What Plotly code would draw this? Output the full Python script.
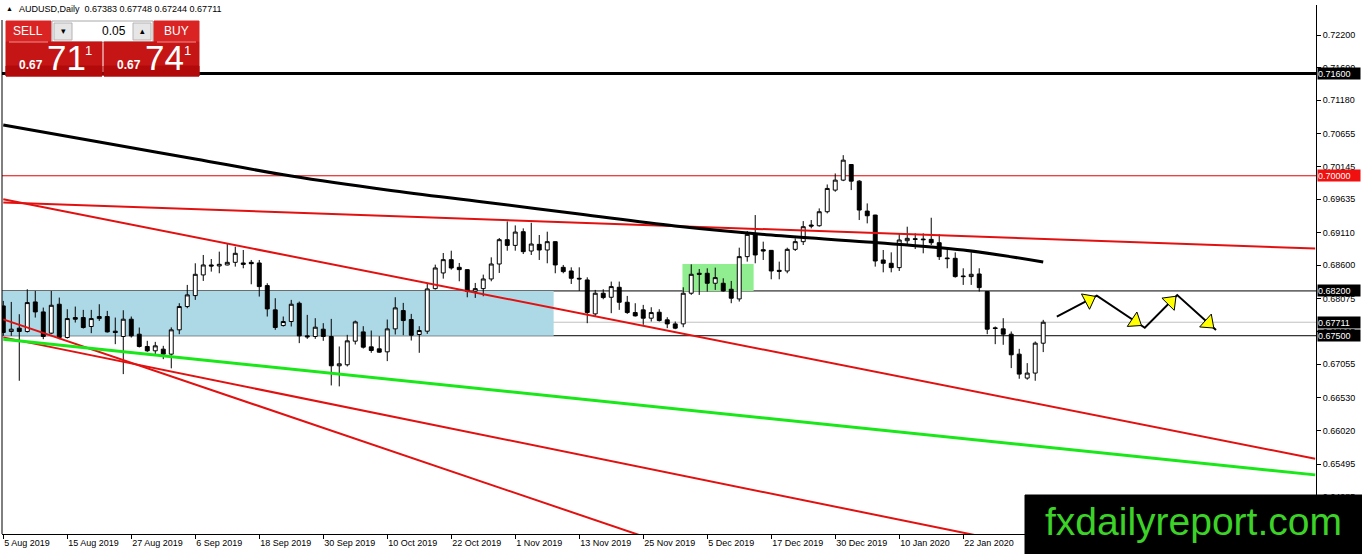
import pandas as pd
import plotly.graph_objects as go

# trading days shown on the chart (broker calendar, no Christmas / New Year bar)
dates = pd.bdate_range('2019-08-05', '2020-02-05', freq='C',
                       holidays=['2019-12-25', '2020-01-01'])

open_ = [0.67966, 0.67566, 0.67618, 0.67566, 0.68028, 0.67872, 0.67540, 0.67992, 0.67472, 0.67784,
         0.67784, 0.67644, 0.67768, 0.67800, 0.67571, 0.67488, 0.67758, 0.67524, 0.67332, 0.67264,
         0.67290, 0.67212, 0.67592, 0.67956, 0.68127, 0.68450, 0.68606, 0.68590, 0.68606, 0.68647,
         0.68637, 0.68647, 0.68637, 0.68283, 0.67904, 0.67659, 0.67722, 0.68008, 0.67498, 0.67488,
         0.67602, 0.67488, 0.67030, 0.67046, 0.67415, 0.67560, 0.67326, 0.67295, 0.67248, 0.67607,
         0.67893, 0.67753, 0.67519, 0.67571, 0.68236, 0.68481, 0.68689, 0.68569, 0.68533, 0.68195,
         0.68236, 0.68387, 0.68621, 0.69001, 0.68912, 0.69126, 0.68824, 0.68928, 0.68840, 0.68970,
         0.68569, 0.68512, 0.68398, 0.68372, 0.67841, 0.68164, 0.68101, 0.68257, 0.68023, 0.67862,
         0.67904, 0.67774, 0.67867, 0.67748, 0.67685, 0.67685, 0.68164, 0.68476, 0.68476, 0.68320,
         0.68320, 0.68226, 0.68075, 0.68736, 0.69074, 0.68845, 0.68834, 0.68522, 0.68512, 0.68850,
         0.68970, 0.69230, 0.69219, 0.69438, 0.69776, 0.69932, 0.70176, 0.69916, 0.69448, 0.69386,
         0.68684, 0.68632, 0.68564, 0.68985, 0.69016, 0.69011, 0.69006, 0.68954, 0.68715, 0.68710,
         0.68434, 0.68424, 0.68465, 0.68190, 0.67623, 0.67607, 0.67524, 0.67212, 0.66838, 0.66916,
         0.67383]
high = [0.68044, 0.68028, 0.67836, 0.68226, 0.68200, 0.67940, 0.68200, 0.68096, 0.67914, 0.67956,
        0.67904, 0.67904, 0.67992, 0.67888, 0.67784, 0.67898, 0.67800, 0.67628, 0.67420, 0.67404,
        0.67342, 0.67630, 0.68008, 0.68294, 0.68632, 0.68762, 0.68699, 0.68814, 0.68944, 0.68892,
        0.68840, 0.68684, 0.68684, 0.68320, 0.68086, 0.67800, 0.68060, 0.68034, 0.67826, 0.67774,
        0.67696, 0.67763, 0.67332, 0.67514, 0.67737, 0.67649, 0.67581, 0.67493, 0.67753, 0.68101,
        0.68013, 0.67841, 0.67649, 0.68325, 0.68611, 0.68793, 0.68829, 0.68637, 0.68540, 0.68325,
        0.68455, 0.68725, 0.69027, 0.69287, 0.69224, 0.69178, 0.69266, 0.69074, 0.69126, 0.68975,
        0.68606, 0.68569, 0.68569, 0.68413, 0.68216, 0.68226, 0.68346, 0.68346, 0.68122, 0.68008,
        0.67982, 0.67945, 0.67914, 0.67789, 0.67722, 0.68257, 0.68616, 0.68543, 0.68554, 0.68564,
        0.68398, 0.68356, 0.68876, 0.69136, 0.69386, 0.68970, 0.68840, 0.68658, 0.68876, 0.69022,
        0.69292, 0.69308, 0.69490, 0.69864, 0.70036, 0.70322, 0.70180, 0.69932, 0.69568, 0.69390,
        0.68840, 0.68803, 0.69100, 0.69204, 0.69100, 0.69100, 0.69344, 0.69084, 0.68866, 0.68803,
        0.68554, 0.68803, 0.68554, 0.68195, 0.67644, 0.67774, 0.67566, 0.67295, 0.67072, 0.67410,
        0.67748]
low = [0.67498, 0.67498, 0.66796, 0.67550, 0.67784, 0.67446, 0.67524, 0.67446, 0.67456, 0.67706,
       0.67612, 0.67540, 0.67732, 0.67550, 0.67368, 0.66900, 0.67472, 0.67316, 0.67248, 0.67186,
       0.67134, 0.66990, 0.67524, 0.67930, 0.68060, 0.68356, 0.68502, 0.68476, 0.68600, 0.68580,
       0.68554, 0.68304, 0.68112, 0.67800, 0.67592, 0.67644, 0.67644, 0.67384, 0.67451, 0.67451,
       0.67420, 0.66723, 0.66708, 0.67020, 0.67363, 0.67300, 0.67233, 0.67233, 0.67103, 0.67519,
       0.67508, 0.67425, 0.67233, 0.67529, 0.68221, 0.68392, 0.68533, 0.68351, 0.68101, 0.68091,
       0.68117, 0.68351, 0.68481, 0.68829, 0.68829, 0.68777, 0.68762, 0.68684, 0.68632, 0.68476,
       0.68476, 0.68309, 0.68200, 0.67696, 0.67800, 0.68070, 0.67852, 0.67904, 0.67841, 0.67800,
       0.67670, 0.67722, 0.67722, 0.67618, 0.67602, 0.67633, 0.68138, 0.68138, 0.68190, 0.68216,
       0.68190, 0.68008, 0.68034, 0.68658, 0.68632, 0.68684, 0.68382, 0.68382, 0.68476, 0.68824,
       0.68918, 0.69178, 0.69204, 0.69412, 0.69750, 0.69916, 0.69776, 0.69308, 0.69256, 0.68580,
       0.68491, 0.68491, 0.68512, 0.68918, 0.68855, 0.68788, 0.68918, 0.68684, 0.68554, 0.68408,
       0.68294, 0.68294, 0.68190, 0.67524, 0.67368, 0.67358, 0.66994, 0.66827, 0.66812, 0.66796,
       0.67244]
close = [0.67550, 0.67602, 0.67566, 0.68018, 0.67872, 0.67488, 0.67976, 0.67472, 0.67768, 0.67758,
         0.67628, 0.67768, 0.67800, 0.67560, 0.67550, 0.67758, 0.67498, 0.67332, 0.67264, 0.67342,
         0.67212, 0.67592, 0.67956, 0.68138, 0.68460, 0.68606, 0.68590, 0.68616, 0.68647, 0.68788,
         0.68616, 0.68626, 0.68268, 0.67919, 0.67628, 0.67722, 0.67992, 0.67498, 0.67483, 0.67633,
         0.67488, 0.67030, 0.67061, 0.67420, 0.67716, 0.67321, 0.67269, 0.67243, 0.67607, 0.67935,
         0.67737, 0.67508, 0.67581, 0.68231, 0.68559, 0.68689, 0.68559, 0.68533, 0.68195, 0.68236,
         0.68387, 0.68621, 0.69001, 0.68912, 0.69120, 0.68814, 0.68933, 0.68840, 0.68970, 0.68606,
         0.68502, 0.68398, 0.68388, 0.67862, 0.68164, 0.68096, 0.68268, 0.68023, 0.67862, 0.67810,
         0.67774, 0.67862, 0.67737, 0.67685, 0.67618, 0.68164, 0.68460, 0.68460, 0.68320, 0.68408,
         0.68200, 0.68086, 0.68736, 0.69084, 0.68762, 0.68824, 0.68512, 0.68507, 0.68850, 0.68970,
         0.69204, 0.69214, 0.69438, 0.69802, 0.69932, 0.70244, 0.69916, 0.69464, 0.69375, 0.68668,
         0.68632, 0.68564, 0.68996, 0.69022, 0.69006, 0.69001, 0.68954, 0.68736, 0.68705, 0.68424,
         0.68424, 0.68460, 0.68252, 0.67602, 0.67613, 0.67524, 0.67202, 0.66900, 0.66916, 0.67384,
         0.67711]

# moving average read at a few bars
ma_bars = [0, 12, 24, 36, 48, 60, 72, 84, 96, 108, 120, 130]
ma_vals = [0.70793, 0.70528, 0.70262, 0.69996, 0.69778, 0.69590, 0.69402, 0.69215, 0.69074, 0.68965,
           0.68840, 0.68652]

# drawn trend lines: (bar, price) anchors
red_flat_x, red_flat_y = [0, 164], [0.69582, 0.68863]
red_steep_x, red_steep_y = [0, 164], [0.69632, 0.65578]
red_low1_x, red_low1_y = [0, 90], [0.67755, 0.63940]
red_low2_x, red_low2_y = [0, 130], [0.67474, 0.64167]
green_x, green_y = [0, 164], [0.67444, 0.65325]

# horizontal levels
level_716 = 0.71600
level_700 = 0.70000
level_682 = 0.68200
level_675 = 0.67500
bid = 0.67711

# zones (bar range, price range)
blue_zone = ([-1, 68.8], [0.67500, 0.68200])
green_zone = ([84.9, 93.8], [0.68200, 0.68621])

# projected zig-zag path
path_x = [131.7, 136.7, 142.7, 146.75, 151.6]
path_y = [0.67797, 0.68126, 0.67625, 0.68136, 0.67589]

ytick_vals = [0.72200, 0.71690, 0.71180, 0.70655, 0.70145, 0.69635, 0.69110, 0.68600, 0.68075,
              0.67565, 0.67055, 0.66530, 0.66020, 0.65495, 0.64985]

bars = list(range(len(dates)))
xtick_vals = bars[::8]
xtick_text = [f'{d.day} {d.strftime("%b %Y")}' for d in dates[::8]]

FONT = 'Liberation Sans'
W, H = 1362, 554
L, R, T, B = 2, 46, 5, 20


def PX(x):
    return (x - L) / (W - L - R)


def PY(y):
    return (H - B - y) / (H - T - B)


fig = go.Figure()

fig.add_trace(go.Candlestick(
    x=bars, open=open_, high=high, low=low, close=close,
    increasing=dict(line=dict(color='black', width=1), fillcolor='white'),
    decreasing=dict(line=dict(color='black', width=1), fillcolor='black'),
    whiskerwidth=0, hoverinfo='skip'))

for lx, ly, col, wid in [(red_flat_x, red_flat_y, '#E31010', 2),
                         (red_steep_x, red_steep_y, '#E31010', 2),
                         (red_low1_x, red_low1_y, '#E31010', 2),
                         (red_low2_x, red_low2_y, '#E31010', 2),
                         (green_x, green_y, '#18E818', 3)]:
    fig.add_trace(go.Scatter(x=lx, y=ly, mode='lines', line=dict(color=col, width=wid),
                             hoverinfo='skip'))

fig.add_trace(go.Scatter(x=ma_bars, y=ma_vals, mode='lines', line=dict(color='black', width=3),
                         line_shape='spline', hoverinfo='skip'))

fig.add_trace(go.Scatter(x=path_x, y=path_y, mode='lines', line=dict(color='black', width=2),
                         hoverinfo='skip'))
for i in range(len(path_x) - 1):
    t = 0.8
    cx = path_x[i] + t * (path_x[i + 1] - path_x[i])
    cy = path_y[i] + t * (path_y[i + 1] - path_y[i])
    fig.add_trace(go.Scatter(
        x=[path_x[i], cx], y=[path_y[i], cy], mode='markers',
        marker=dict(symbol='triangle-up', size=15, color='#FFFF00', opacity=[0, 1],
                    angleref='previous', line=dict(color='black', width=1)),
        hoverinfo='skip'))

shapes = []
for zone, col in [(blue_zone, '#ADD8E6'), (green_zone, '#90EE90')]:
    shapes.append(dict(type='rect', xref='x', yref='y', x0=zone[0][0], x1=zone[0][1],
                       y0=zone[1][0], y1=zone[1][1], fillcolor=col, line_width=0, layer='below'))
for lvl, col, wid in [(level_716, 'black', 3), (level_700, '#E00000', 1), (level_682, 'black', 1),
                      (level_675, 'black', 1), (bid, '#C0C0C0', 1)]:
    shapes.append(dict(type='line', xref='paper', yref='y', x0=0, x1=1, y0=lvl, y1=lvl,
                       line=dict(color=col, width=wid), layer='below'))
# left frame
shapes.append(dict(type='line', xref='paper', yref='paper', x0=0, x1=0, y0=0, y1=PY(20),
                   line=dict(color='black', width=1)))


def prect(x0, y0, x1, y1, fill, line=None):
    shapes.append(dict(type='rect', xref='paper', yref='paper', x0=PX(x0), x1=PX(x1),
                       y0=PY(y1), y1=PY(y0), fillcolor=fill,
                       line=dict(color=line or fill, width=1), layer='above'))


# trade panel
prect(6, 21, 51, 42, '#DA2424')
prect(52, 21, 153, 42, 'white', '#A8A8A8')
prect(54, 23, 72, 40, '#E6E6E6', '#B4B4B4')
prect(133, 23, 151, 40, '#E6E6E6', '#B4B4B4')
prect(154, 21, 199, 42, '#DA2424')
prect(6, 42, 102, 76, '#C51515')
prect(104, 42, 199, 76, '#C51515')
prect(6, 66, 102, 76, '#B20A0A')
prect(104, 66, 199, 76, '#B20A0A')
shapes.append(dict(type='line', xref='paper', yref='paper', x0=PX(9), x1=PX(48), y0=PY(42),
                   y1=PY(42), line=dict(color='#F29090', width=1), layer='above'))
shapes.append(dict(type='line', xref='paper', yref='paper', x0=PX(157), x1=PX(196), y0=PY(42),
                   y1=PY(42), line=dict(color='#F29090', width=1), layer='above'))
# watermark box
prect(1025, 495, 1362, 554, 'black')

ann = []


def ptext(x, y, s, size, color='white', anchor='center', bold=False, family=FONT):
    ann.append(dict(xref='paper', yref='paper', x=PX(x), y=PY(y), text=f'<b>{s}</b>' if bold else s,
                    showarrow=False, xanchor=anchor, yanchor='middle',
                    font=dict(family=family, size=size, color=color)))


ptext(9, 9, '▲', 7, 'black')
ptext(17, 9, 'AUDUSD,Daily  0.67383 0.67748 0.67244 0.67711', 9, 'black', 'left')
ptext(28, 31, 'SELL', 12)
ptext(176, 31, 'BUY', 12)
ptext(128, 31, '0.05', 12, 'black', 'right')
ptext(63, 31, '▾', 9, 'black')
ptext(142, 31, '▴', 9, 'black')
ptext(31, 65, '0.67', 12, bold=True)
ptext(66, 58, '71', 35)
ptext(88, 50, '1', 13)
ptext(129, 65, '0.67', 12, bold=True)
ptext(164, 58, '74', 35)
ptext(187, 50, '1', 13)
ptext(1193, 521, 'fxdailyreport.com', 39, '#3CD228')

for lvl, bg in [(level_716, 'black'), (level_700, '#F01010'), (level_682, 'black'),
                (bid, 'black'), (level_675, 'black')]:
    ann.append(dict(xref='paper', yref='y', x=1, y=lvl, xanchor='left', yanchor='middle', xshift=1,
                    text=f'{lvl:.5f}', showarrow=False, bgcolor=bg, borderpad=0, width=42,
                    height=11, align='left', font=dict(family=FONT, size=9, color='white')))

fig.update_layout(
    width=W, height=H,
    margin=dict(l=L, r=R, t=T, b=B),
    paper_bgcolor='white', plot_bgcolor='white',
    showlegend=False,
    shapes=shapes, annotations=ann,
    xaxis=dict(range=[-0.16, 164.1], tickvals=xtick_vals, ticktext=xtick_text,
               ticks='outside', ticklen=4, tickcolor='black', ticklabelposition='outside right',
               showline=True, linecolor='black', linewidth=1, showgrid=False, zeroline=False,
               rangeslider=dict(visible=False),
               tickfont=dict(family=FONT, size=9, color='black')),
    yaxis=dict(side='right', range=[0.64401, 0.72669], tickvals=ytick_vals,
               ticktext=[f'{v:.5f}' for v in ytick_vals],
               ticks='outside', ticklen=4, tickcolor='black',
               showline=True, linecolor='black', linewidth=1, showgrid=False, zeroline=False,
               tickfont=dict(family=FONT, size=9, color='black')),
)

fig.write_html('out.html', config={'displayModeBar': False},
               post_script="document.body.style.margin='0';")
